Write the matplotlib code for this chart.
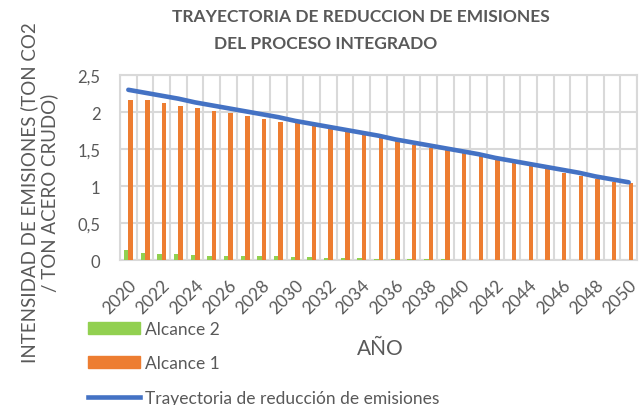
import numpy as np
import matplotlib
matplotlib.use("Agg")
import matplotlib.pyplot as plt
from matplotlib.lines import Line2D
from matplotlib.patches import Patch

plt.rcParams['font.family'] = ['Lato', 'DejaVu Sans']

# data
years = list(range(2020, 2051))
alcance_2 = [0.13, 0.09, 0.08, 0.08, 0.07, 0.06, 0.05, 0.05, 0.05, 0.06,
             0.04, 0.04, 0.03, 0.03, 0.03, 0.02, 0.02, 0.02, 0.01, 0.01,
             0.0, 0.0, 0.0, 0.0, 0.0, 0.0, 0.0, 0.0, 0.0, 0.0, 0.0]
alcance_1 = [2.16, 2.16, 2.12, 2.08, 2.05, 2.02, 1.99, 1.95, 1.91, 1.87,
             1.86, 1.81, 1.78, 1.73, 1.69, 1.65, 1.61, 1.56, 1.52, 1.48,
             1.44, 1.40, 1.35, 1.31, 1.27, 1.23, 1.18, 1.14, 1.10, 1.06, 1.04]
trayectoria = [2.30, 2.26, 2.22, 2.18, 2.13, 2.09, 2.05, 2.01, 1.97, 1.93,
               1.88, 1.84, 1.80, 1.76, 1.72, 1.68, 1.63, 1.59, 1.55, 1.51,
               1.47, 1.43, 1.38, 1.34, 1.30, 1.26, 1.22, 1.18, 1.13, 1.09, 1.05]
y_ticks = [0, 0.5, 1, 1.5, 2, 2.5]
y_tick_labels = ["0", "0,5", "1", "1,5", "2", "2,5"]

GRAY = "#595959"
GRID = "#d9d9d9"
C_A2 = "#92D050"
C_A1 = "#ED7D31"
C_TR = "#4472C4"

fig = plt.figure(figsize=(6.44, 4.06), dpi=100)
ax = fig.add_axes([120 / 644, 1 - 261 / 406, 517 / 644, 185 / 406])

x = np.arange(len(years))
w = 0.27
ax.bar(x - w / 2, alcance_2, width=w, color=C_A2, zorder=3)
ax.bar(x + w / 2, alcance_1, width=w, color=C_A1, zorder=3)
ax.plot(x, trayectoria, color=C_TR, lw=3.3, solid_capstyle='round', zorder=4)

ax.set_xlim(-0.5, len(years) - 0.5)
ax.set_ylim(0, 2.5)
ax.set_yticks(y_ticks)
ax.set_yticklabels(y_tick_labels)
ax.set_xticks(x[::2])
ax.set_xticklabels([str(y) for y in years[::2]], rotation=45, ha='right',
                   va='top', rotation_mode='anchor')
ax.set_xticks(np.arange(-0.5, len(years), 1), minor=True)
ax.tick_params(axis='both', which='both', length=0, colors=GRAY, labelsize=12)
ax.tick_params(axis='x', labelsize=12.5, pad=12)
ax.tick_params(axis='y', pad=14)
ax.grid(axis='y', which='major', color=GRID, lw=1.5, zorder=0)
ax.grid(axis='x', which='minor', color=GRID, lw=1.5, zorder=0)
ax.grid(axis='x', which='major', visible=False)
for s in ax.spines.values():
    s.set_color(GRID)
    s.set_linewidth(1.5)

fig.text(361 / 644, 1 - 17 / 406, "TRAYECTORIA DE REDUCCION DE EMISIONES",
         ha='center', va='center', fontsize=12.5, fontweight='bold', color=GRAY)
fig.text(326 / 644, 1 - 44 / 406, "DEL PROCESO INTEGRADO",
         ha='center', va='center', fontsize=12.5, fontweight='bold', color=GRAY)

fig.text(39 / 644, 1 - 193 / 406,
         "INTENSIDAD DE EMISIONES (TON CO2\n/ TON ACERO CRUDO)",
         rotation=90, ha='center', va='center', fontsize=13.5, color=GRAY,
         multialignment='center', linespacing=1.15)
fig.text(380 / 644, 1 - 349 / 406, "AÑO", ha='center', va='center',
         fontsize=15, color=GRAY)

handles = [Patch(color=C_A2), Patch(color=C_A1), Line2D([], [], color=C_TR, lw=3.3)]
labels = ["Alcance 2", "Alcance 1", "Trayectoria de reducción de emisiones"]
fig.legend(handles, labels, loc='upper left', bbox_to_anchor=(88 / 644, 1 - 322 / 406),
           frameon=False, fontsize=12.5, labelcolor=GRAY, handlelength=3.0,
           handletextpad=0.3, labelspacing=1.06, borderaxespad=0, borderpad=0)

fig.savefig("out.png", dpi=100)
